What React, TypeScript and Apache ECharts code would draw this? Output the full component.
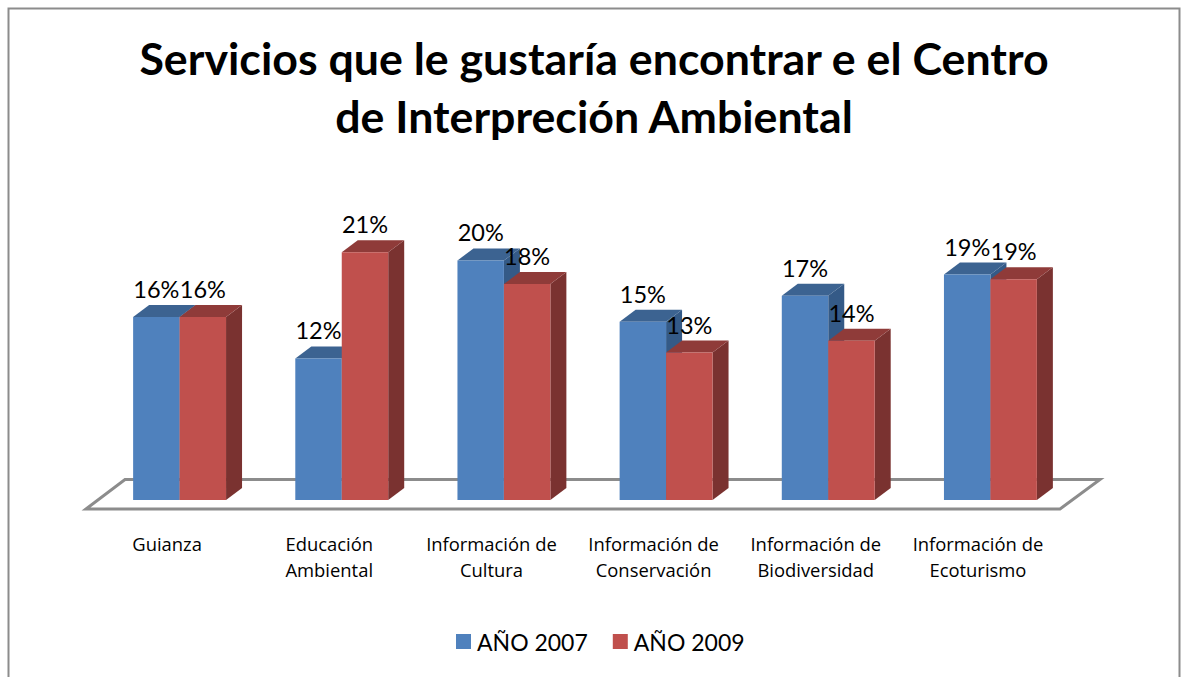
import React, { useEffect, useRef } from "react";
import * as echarts from "echarts";

const titleText = "Servicios que le gustaría encontrar e el Centro\nde Interpreción Ambiental";
const categories = [
  "Guianza",
  "Educación\nAmbiental",
  "Información de\nCultura",
  "Información de\nConservación",
  "Información de\nBiodiversidad",
  "Información de\nEcoturismo",
];
const year2007 = [15.5, 12.0, 20.3, 15.1, 17.3, 19.1];
const year2009 = [15.5, 21.0, 18.3, 12.5, 13.5, 18.7];

const FONT = "Lato";
const BLUE = { front: "#4F81BD", top: "#3C6391", side: "#345A87" };
const RED = { front: "#C0504D", top: "#8F3B39", side: "#7A3230" };
const DX = 16;
const DY = 12;

function bar3d(offsetIndex: number, c: { front: string; top: string; side: string }) {
  return (params: any, api: any) => {
    const value = api.value(1);
    const center = api.coord([api.value(0), value]);
    const base = api.coord([api.value(0), 0]);
    const band = api.size([1, 0])[0];
    const w = band * 0.2865;
    const x0 = center[0] + (offsetIndex - 1) * w;
    const x1 = x0 + w;
    const yT = center[1];
    const yB = base[1];
    return {
      type: "group",
      children: [
        { type: "polygon", shape: { points: [[x1, yT], [x1 + DX, yT - DY], [x1 + DX, yB - DY], [x1, yB]] }, style: { fill: c.side } },
        { type: "polygon", shape: { points: [[x0, yT], [x0 + DX, yT - DY], [x1 + DX, yT - DY], [x1, yT]] }, style: { fill: c.top } },
        { type: "rect", shape: { x: x0, y: yT, width: w, height: yB - yT }, style: { fill: c.front } },
        {
          type: "text",
          z2: 100,
          style: {
            x: (x0 + x1) / 2,
            y: yT - 28,
            text: Math.round(value) + "%",
            fontFamily: FONT,
            fontSize: 23.5,
            fill: "#000",
            textAlign: "center",
            textVerticalAlign: "middle",
          },
        },
      ],
    };
  };
}

export default function App() {
  const ref = useRef<HTMLDivElement>(null);
  useEffect(() => {
    document.body.style.margin = "0";
    const chart = echarts.init(ref.current!, undefined, { renderer: "svg" });
    chart.setOption({
      animation: false,
      backgroundColor: "#fff",
      title: {
        text: titleText,
        left: 589,
        top: 24,
        textAlign: "center",
        textStyle: { fontFamily: FONT, fontWeight: "bold", fontSize: 44.7, lineHeight: 58, color: "#000" },
      },
      legend: {
        left: 451,
        top: 625,
        icon: "rect",
        itemWidth: 15,
        itemHeight: 15,
        itemGap: 25,
        textStyle: { fontFamily: FONT, fontSize: 23, color: "#000", padding: [0, 0, 0, 1] },
        data: ["AÑO 2007", "AÑO 2009"],
      },
      grid: { left: 98.5, top: 205, width: 973, height: 295 },
      xAxis: {
        type: "category",
        data: categories,
        axisLine: { show: false },
        axisTick: { show: false },
        axisLabel: {
          interval: 0,
          margin: 30,
          fontFamily: "Open Sans",
          fontSize: 18.4,
          lineHeight: 26,
          color: "#000",
          padding: [0, 25, 0, 0],
        },
      },
      yAxis: { type: "value", min: 0, max: 25, show: false },
      graphic: [
        {
          type: "polyline",
          z: 0,
          silent: true,
          shape: { points: [[8.5, 690], [8.5, 8.5], [1179.5, 8.5], [1179.5, 690]] },
          style: { fill: "none", stroke: "#8C8C8C", lineWidth: 2 },
        },
        {
          type: "polygon",
          z: 0,
          silent: true,
          shape: { points: [[86, 509], [125, 479.5], [1100, 479.5], [1060, 509]] },
          style: { fill: "#fff", stroke: "#8C8C8C", lineWidth: 3 },
        },
      ],
      series: [
        {
          name: "AÑO 2007",
          type: "custom",
          itemStyle: { color: BLUE.front },
          data: year2007.map((v, i) => [i, v]),
          encode: { x: 0, y: 1 },
          renderItem: bar3d(0, BLUE),
          clip: false,
        },
        {
          name: "AÑO 2009",
          type: "custom",
          itemStyle: { color: RED.front },
          data: year2009.map((v, i) => [i, v]),
          encode: { x: 0, y: 1 },
          renderItem: bar3d(1, RED),
          clip: false,
        },
      ],
    });
    return () => chart.dispose();
  }, []);
  return <div ref={ref} style={{ position: "fixed", left: 0, top: 0, width: 1181, height: 677 }} />;
}
